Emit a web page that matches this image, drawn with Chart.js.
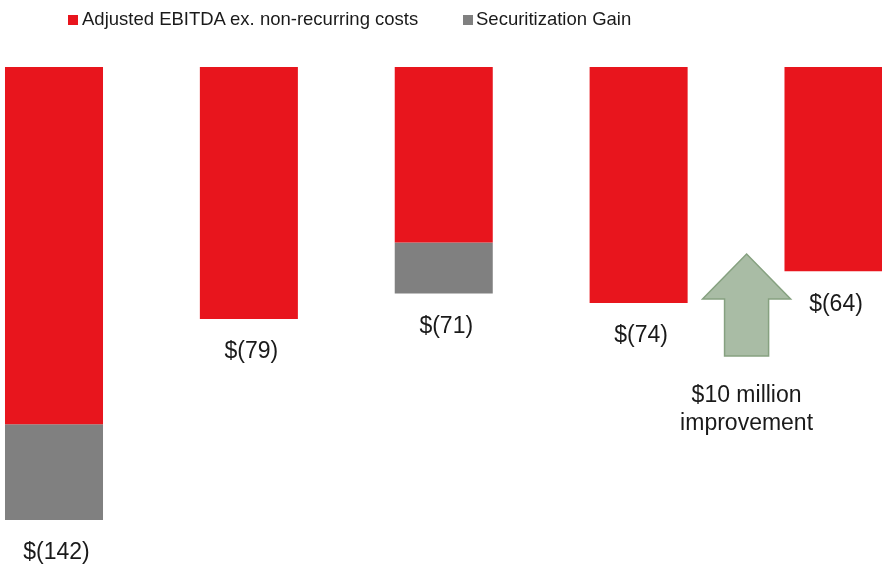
<!DOCTYPE html>
<html>
<head>
<meta charset="utf-8">
<script src="https://cdn.jsdelivr.net/npm/chart.js@4.4.1/dist/chart.umd.min.js"></script>
<style>
  html, body { margin: 0; padding: 0; background: #fff; }
  #wrap { position: relative; width: 882px; height: 565px; overflow: hidden; }
  #c { position: absolute; left: 0; top: 0; }
  .leg { position: absolute; top: 8px; font-family: "Liberation Sans", Arial, sans-serif; font-size: 18.5px; color: #1a1a1a; white-space: nowrap; line-height: 22px; }
  .leg i { position: absolute; top: 7px; width: 10px; height: 10px; }
</style>
</head>
<body>
<div id="wrap">
  <canvas id="c" width="882" height="565"></canvas>
  <div class="leg" style="left:68px;"><i style="left:0;background:#e8151d;"></i><span style="margin-left:14px;">Adjusted EBITDA ex. non-recurring costs</span></div>
  <div class="leg" style="left:463px;"><i style="left:0;background:#808080;"></i><span style="margin-left:13px;">Securitization Gain</span></div>
</div>
<script>
const categories = [0, 1, 2, 3, 4];
const adjustedEbitda = [-112, -79, -55, -74, -64];
const securitizationGain = [-30, 0, -16, 0, 0];
const totalLabels = ["$(142)", "$(79)", "$(71)", "$(74)", "$(64)"];
const annotationText = ["$10 million", "improvement"];
// arrow annotation: x position (category index), tip / head-base / tail values
const arrowSpec = { x: 3.554, tip: -58.6, headBase: -72.7, tail: -90.6, textTop: -103 };

const totals = categories.map((_, i) => adjustedEbitda[i] + securitizationGain[i]);

const overlayPlugin = {
  id: 'overlay',
  afterDatasetsDraw(chart) {
    const ctx = chart.ctx;
    const xs = chart.scales.x, ys = chart.scales.y;
    ctx.save();
    ctx.font = '23px "Liberation Sans", Arial, sans-serif';
    ctx.fillStyle = '#1a1a1a';
    ctx.textAlign = 'center';
    ctx.textBaseline = 'middle';
    totals.forEach((t, i) => {
      const px = xs.getPixelForValue(categories[i]) + 2.5;
      const py = ys.getPixelForValue(t) + 33;
      ctx.fillText(totalLabels[i], px, py);
    });
    // arrow
    const step = xs.getPixelForValue(1) - xs.getPixelForValue(0);
    const cx = xs.getPixelForValue(arrowSpec.x);
    const tipY = ys.getPixelForValue(arrowSpec.tip);
    const baseY = ys.getPixelForValue(arrowSpec.headBase);
    const tailY = ys.getPixelForValue(arrowSpec.tail);
    const headHalf = step * 0.226;
    const shaftHalf = step * 0.113;
    ctx.beginPath();
    ctx.moveTo(cx, tipY);
    ctx.lineTo(cx + headHalf, baseY);
    ctx.lineTo(cx + shaftHalf, baseY);
    ctx.lineTo(cx + shaftHalf, tailY);
    ctx.lineTo(cx - shaftHalf, tailY);
    ctx.lineTo(cx - shaftHalf, baseY);
    ctx.lineTo(cx - headHalf, baseY);
    ctx.closePath();
    ctx.fillStyle = '#a9bca5';
    ctx.fill();
    ctx.lineWidth = 1.5;
    ctx.strokeStyle = '#86a180';
    ctx.stroke();
    // annotation text
    ctx.fillStyle = '#1a1a1a';
    const ty = ys.getPixelForValue(arrowSpec.textTop);
    annotationText.forEach((line, k) => {
      ctx.fillText(line, cx, ty + k * 28);
    });
    ctx.restore();
  }
};

new Chart(document.getElementById('c'), {
  type: 'bar',
  data: {
    datasets: [
      { label: 'Adjusted EBITDA ex. non-recurring costs', data: categories.map((c, i) => ({ x: c, y: adjustedEbitda[i] })), backgroundColor: '#e8151d', borderWidth: 0 },
      { label: 'Securitization Gain', data: categories.map((c, i) => ({ x: c, y: securitizationGain[i] })), backgroundColor: '#808080', borderWidth: 0 }
    ]
  },
  options: {
    responsive: false,
    animation: false,
    devicePixelRatio: 1,
    layout: { padding: { top: 67, bottom: 3.5, left: 0, right: 0 } },
    plugins: { legend: { display: false }, tooltip: { enabled: false } },
    datasets: { bar: { categoryPercentage: 1, barPercentage: 1.006 } },
    scales: {
      x: { type: 'linear', stacked: true, display: false, min: -0.2771, max: 4.2489, offset: false },
      y: { stacked: true, display: false, min: -155, max: 0 }
    }
  },
  plugins: [overlayPlugin]
});
</script>
</body>
</html>
